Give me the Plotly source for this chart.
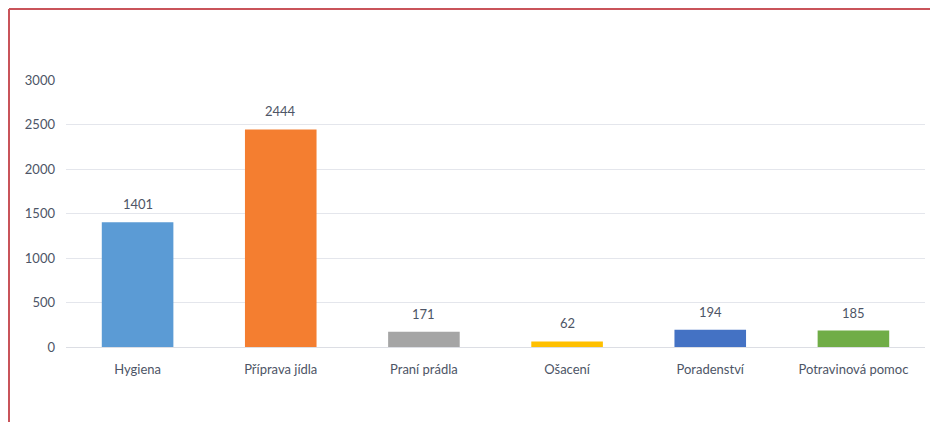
import plotly.graph_objects as go

categories = ["Hygiena", "Příprava jídla", "Praní prádla", "Ošacení", "Poradenství", "Potravinová pomoc"]
values = [1401, 2444, 171, 62, 194, 185]
colors = ["#5b9bd5", "#f47e30", "#a5a5a5", "#ffc000", "#4472c4", "#70ad47"]
y_ticks = [0, 500, 1000, 1500, 2000, 2500, 3000]

# the page puts the figure 8px in from the window edge, so shrink it to fit
W, H = 930, 414
L, T = 58, 72
PW, PH = 859, 267
R, B = W - L - PW, H - T - PH

fig = go.Figure(
    go.Bar(
        x=categories,
        y=values,
        marker=dict(color=colors, line=dict(width=0)),
        width=0.5,
    )
)

# value labels above the bars
for c, v in zip(categories, values):
    fig.add_annotation(x=c, y=v, text=str(v), showarrow=False, yanchor="bottom",
                       yshift=8, font=dict(size=13, color="#4d5566"))

# red frame (top and left edges, the rest is cut off in the original)
x_left = (1 - L) / PW
y_top = (PH + T - 1) / PH
fig.add_shape(type="line", xref="paper", yref="paper", x0=x_left, x1=1.2,
              y0=y_top, y1=y_top, line=dict(color="#c9545a", width=2))
fig.add_shape(type="line", xref="paper", yref="paper", x0=x_left, x1=x_left,
              y0=y_top, y1=-0.5, line=dict(color="#c9545a", width=2))

fig.update_layout(
    width=W,
    height=H,
    margin=dict(l=L, r=R, t=T, b=B),
    paper_bgcolor="white",
    plot_bgcolor="white",
    font=dict(family="Lato, Open Sans, sans-serif", size=13, color="#4d5566"),
    showlegend=False,
)
fig.update_yaxes(
    range=[0, 3000],
    tickvals=y_ticks,
    gridcolor="#e4e6ec",
    gridwidth=1,
    zeroline=False,
    showline=False,
    ticklabelstandoff=10,
    tickfont=dict(size=13, color="#4d5566"),
)
fig.update_xaxes(
    showline=True,
    linecolor="#dcdee4",
    linewidth=1,
    ticks="",
    ticklabelstandoff=10,
    tickfont=dict(size=13, color="#4d5566"),
)

fig.write_html("out.html")
